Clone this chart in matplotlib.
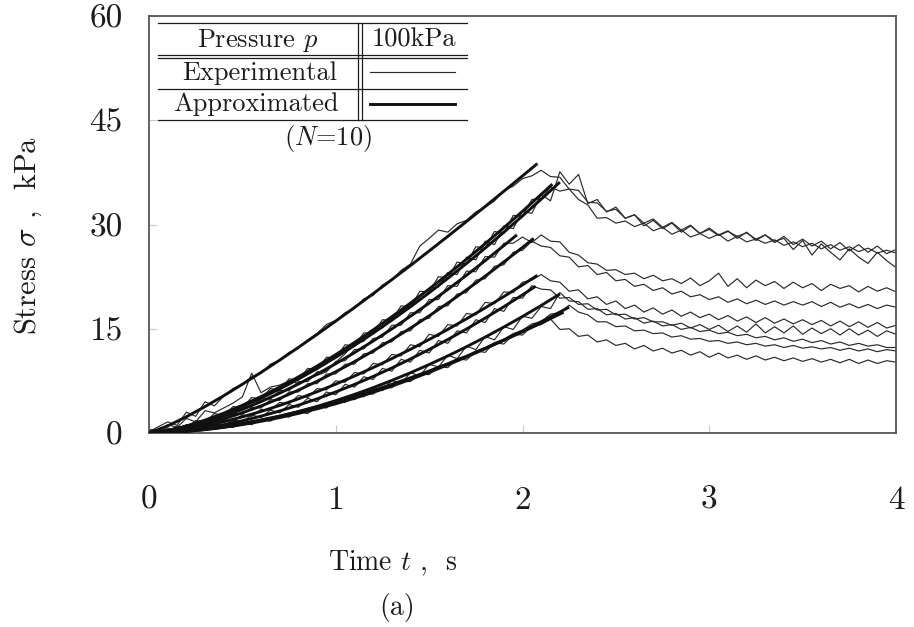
import numpy as np
import matplotlib
matplotlib.use("Agg")
import matplotlib.pyplot as plt

plt.rcParams["font.family"] = "serif"
plt.rcParams["font.serif"] = ["cmr10"]
plt.rcParams["mathtext.fontset"] = "cm"
plt.rcParams["axes.unicode_minus"] = False
plt.rcParams["axes.formatter.use_mathtext"] = True

# ---------------------------------------------------------------------------
# Data
# ---------------------------------------------------------------------------
x_ticks = [0, 1, 2, 3, 4]
y_ticks = [0, 15, 30, 45, 60]

# measured stress, sampled every 0.05 s from 0 to 4 s (kPa)
t_exp = np.round(np.arange(81) * 0.05, 2)

exp_1 = [0.2, 0.9, 1.6, 1.1, 3.0, 2.4, 4.5, 3.9, 5.3, 6.4,
         7.0, 8.1, 8.6, 9.9, 10.5, 11.6, 12.2, 13.4, 14.3, 15.6,
         16.2, 17.3, 17.9, 19.3, 19.8, 21.3, 22.0, 23.4, 24.3, 26.9,
         28.0, 29.2, 28.9, 30.1, 30.6, 31.8, 32.5, 33.4, 34.9, 35.5,
         36.6, 37.0, 37.8, 36.9, 36.8, 35.1, 34.9, 33.2, 33.1, 31.9,
         32.2, 30.9, 31.4, 30.2, 30.8, 29.6, 30.3, 29.2, 29.9, 28.7,
         29.5, 28.5, 29.1, 28.0, 28.9, 27.7, 28.5, 27.4, 28.3, 27.1,
         27.9, 26.9, 27.6, 26.5, 27.4, 26.2, 27.1, 26.0, 26.9, 25.8,
         26.4]
exp_2 = [0.5, 0.3, 1.2, 0.8, 2.1, 1.6, 3.2, 2.9, 3.6, 4.3,
         5.2, 8.6, 5.8, 6.6, 6.9, 7.5, 7.1, 7.9, 8.3, 8.8,
         10.2, 11.4, 12.9, 13.2, 14.8, 15.1, 16.6, 17.5, 18.4, 19.6,
         20.8, 21.0, 23.1, 22.8, 25.3, 24.9, 27.6, 27.1, 29.8, 29.4,
         31.9, 31.6, 34.3, 33.4, 37.6, 35.8, 37.2, 33.0, 33.6, 31.8,
         32.5, 30.9, 31.4, 29.8, 30.6, 29.4, 30.2, 28.9, 29.8, 28.7,
         29.3, 28.4, 29.0, 28.3, 28.8, 27.9, 28.5, 27.6, 28.0, 26.4,
         27.7, 25.6, 27.2, 26.0, 24.9, 26.5, 25.3, 24.4, 26.0, 24.8,
         23.8]
exp_3 = [0.2, 0.5, 0.2, 1.0, 0.7, 1.8, 1.6, 2.8, 2.5, 3.8,
         3.7, 5.1, 4.9, 6.4, 6.1, 7.8, 7.6, 9.3, 9.1, 10.9,
         10.8, 12.7, 12.5, 14.4, 14.3, 16.3, 16.2, 18.3, 18.1, 20.4,
         20.3, 22.5, 22.3, 24.6, 24.3, 26.8, 26.6, 29.0, 28.7, 31.3,
         31.2, 33.6, 33.7, 35.4, 34.8, 35.1, 33.6, 32.8, 30.9, 31.0,
         30.2, 30.5, 29.7, 30.2, 29.1, 29.6, 28.6, 29.2, 28.2, 28.7,
         28.0, 28.6, 27.6, 28.3, 27.5, 27.9, 27.3, 27.8, 27.0, 27.5,
         26.8, 27.3, 26.5, 27.1, 26.3, 26.8, 26.1, 26.6, 25.9, 26.3,
         25.9]
exp_4 = [0.4, 0.2, 0.7, 0.4, 1.2, 1.1, 1.9, 1.8, 2.8, 2.7,
         3.7, 3.8, 4.9, 4.9, 6.1, 6.1, 7.4, 7.4, 8.8, 8.9,
         10.3, 10.4, 12.0, 12.1, 13.6, 13.8, 15.5, 15.5, 17.3, 17.3,
         19.2, 19.2, 21.2, 21.1, 23.3, 23.2, 25.4, 25.3, 27.3, 27.3,
         28.2, 27.4, 28.5, 27.6, 27.5, 26.0, 25.6, 24.5, 24.3, 23.4,
         23.5, 22.8, 23.0, 22.2, 22.7, 21.9, 22.2, 21.5, 22.3, 21.2,
         21.9, 23.0, 21.1, 22.2, 20.9, 22.0, 21.2, 21.8, 20.8, 21.7,
         20.9, 21.5, 20.5, 21.4, 20.8, 21.2, 20.3, 21.1, 20.4, 20.9,
         20.3]
exp_5 = [0.1, 0.3, 0.2, 0.6, 0.5, 1.2, 1.1, 1.9, 1.8, 2.8,
         2.7, 3.7, 3.6, 4.8, 4.7, 5.9, 5.9, 7.1, 7.1, 8.5,
         8.5, 9.9, 9.9, 11.4, 11.5, 13.0, 13.1, 14.6, 14.7, 16.3,
         16.5, 18.2, 18.3, 20.0, 20.2, 22.0, 22.2, 24.0, 24.2, 26.0,
         26.3, 27.6, 26.9, 26.7, 25.5, 25.3, 23.9, 24.1, 22.8, 23.1,
         21.9, 22.1, 21.1, 21.4, 20.5, 20.9, 20.0, 20.4, 19.6, 19.9,
         19.2, 19.6, 18.8, 19.3, 18.6, 19.1, 18.5, 19.0, 18.4, 18.9,
         18.4, 18.9, 18.2, 18.8, 18.1, 18.6, 18.0, 18.5, 17.9, 18.4,
         18.1]
exp_6 = [0.3, 0.1, 0.4, 0.2, 0.8, 0.5, 1.2, 1.0, 1.9, 1.7,
         2.6, 2.4, 3.4, 3.3, 4.4, 4.2, 5.4, 5.1, 6.4, 6.2,
         7.5, 7.3, 8.7, 8.5, 10.0, 9.8, 11.3, 11.1, 12.7, 12.4,
         14.2, 13.9, 15.6, 15.4, 17.2, 17.0, 18.8, 18.6, 20.3, 20.2,
         21.7, 22.0, 22.8, 21.9, 21.7, 20.4, 20.6, 19.3, 19.6, 18.5,
         19.0, 17.9, 18.4, 17.4, 18.0, 17.1, 17.7, 16.8, 17.4, 16.6,
         17.1, 16.3, 16.9, 16.1, 16.7, 15.9, 16.6, 15.8, 16.4, 15.7,
         16.3, 15.6, 16.2, 15.4, 16.1, 15.3, 16.0, 15.2, 15.9, 15.1,
         15.5]
exp_7 = [0.2, 0.5, 0.1, 0.6, 0.2, 0.9, 0.6, 1.4, 1.0, 1.9,
         1.6, 2.6, 2.2, 3.3, 2.9, 4.1, 3.7, 5.0, 4.5, 5.9,
         5.5, 7.0, 6.6, 8.1, 7.7, 9.3, 8.9, 10.6, 10.2, 11.9,
         11.5, 13.3, 12.9, 14.7, 14.4, 16.3, 15.9, 17.9, 17.5, 19.5,
         19.4, 21.2, 20.7, 20.6, 19.4, 19.5, 18.5, 18.6, 17.7, 17.8,
         17.0, 17.1, 16.4, 16.6, 16.0, 16.0, 15.5, 15.8, 15.1, 15.6,
         14.9, 15.5, 14.6, 15.4, 14.5, 15.7, 14.4, 15.3, 14.4, 15.4,
         14.2, 15.1, 14.3, 15.0, 14.1, 15.0, 14.1, 14.8, 13.9, 14.7,
         14.2]
exp_8 = [0.4, 0.1, 0.3, 0.2, 0.4, 0.3, 0.6, 0.5, 1.0, 0.8,
         1.4, 1.2, 1.9, 1.7, 2.5, 2.3, 3.1, 2.8, 3.8, 3.6,
         4.7, 4.4, 5.6, 5.2, 6.6, 6.1, 7.6, 7.1, 8.7, 8.2,
         9.9, 9.5, 11.2, 10.7, 12.5, 12.0, 13.9, 13.4, 15.3, 14.9,
         16.8, 16.5, 18.2, 17.9, 20.2, 19.0, 18.9, 17.8, 17.9, 17.0,
         17.2, 16.4, 16.6, 15.8, 16.1, 15.4, 15.6, 14.9, 15.2, 14.6,
         14.8, 14.3, 14.5, 14.0, 14.2, 13.7, 13.9, 13.4, 13.7, 13.2,
         13.5, 13.0, 13.3, 12.8, 13.1, 12.6, 12.9, 12.5, 12.7, 12.3,
         12.3]
exp_9 = [0.1, 0.3, 0.0, 0.3, 0.2, 0.5, 0.4, 0.8, 0.8, 1.2,
         1.2, 1.7, 1.7, 2.2, 2.3, 2.8, 2.9, 3.4, 3.6, 4.1,
         4.3, 4.9, 5.1, 5.7, 6.0, 6.6, 6.9, 7.5, 7.9, 8.5,
         8.9, 9.6, 10.0, 10.7, 11.1, 11.8, 12.3, 13.0, 13.5, 14.3,
         14.8, 15.7, 16.0, 17.1, 17.3, 18.4, 17.4, 17.0, 16.0, 16.0,
         15.3, 15.4, 14.7, 14.8, 14.3, 14.4, 13.8, 14.0, 13.5, 13.6,
         13.2, 13.3, 12.9, 13.1, 12.7, 12.9, 12.5, 12.7, 12.3, 12.6,
         12.2, 12.4, 12.1, 12.3, 11.9, 12.2, 11.8, 12.1, 11.7, 12.0,
         11.8]
exp_10 = [0.0, 0.2, 0.1, 0.3, 0.2, 0.5, 0.4, 0.8, 0.8, 1.2,
          1.2, 1.7, 1.7, 2.2, 2.2, 2.8, 2.8, 3.4, 3.4, 4.1,
          4.1, 4.9, 4.8, 5.7, 5.6, 6.6, 6.5, 7.5, 7.4, 8.5,
          8.4, 9.6, 9.4, 10.7, 10.5, 11.8, 11.6, 13.0, 12.8, 14.2,
          14.1, 15.4, 15.6, 16.4, 14.9, 15.0, 13.9, 14.1, 13.1, 13.4,
          12.6, 12.9, 12.1, 12.6, 11.8, 12.2, 11.5, 11.9, 11.2, 11.7,
          10.9, 11.5, 10.8, 11.2, 10.6, 11.1, 10.5, 10.9, 10.4, 10.8,
          10.3, 10.7, 10.2, 10.6, 10.1, 10.6, 10.0, 10.5, 10.0, 10.4,
          10.2]

experimental = [exp_1, exp_2, exp_3, exp_4, exp_5,
                exp_6, exp_7, exp_8, exp_9, exp_10]

# fitted loading curves: values every 0.1 s, last value at the end time
t_fit_step = 0.1
fit_end = [2.08, 2.20, 2.16, 1.97, 2.06, 2.08, 2.07, 2.20, 2.25, 2.22]
fit_1 = [0, 1.02, 2.33, 3.80, 5.36, 7.01, 8.72, 10.49, 12.32, 14.19, 16.10,
         18.05, 20.04, 22.06, 24.10, 26.19, 28.30, 30.43, 32.59, 34.78, 36.99,
         38.77]
fit_2 = [0, 0.33, 0.94, 1.75, 2.71, 3.80, 5.01, 6.33, 7.76, 9.28, 10.89,
         12.59, 14.36, 16.23, 18.16, 20.17, 22.25, 24.39, 26.60, 28.89, 31.23,
         33.64, 36.09]
fit_3 = [0, 0.36, 1.01, 1.85, 2.85, 3.99, 5.24, 6.61, 8.07, 9.63, 11.28,
         13.01, 14.83, 16.72, 18.69, 20.72, 22.83, 25.00, 27.24, 29.54, 31.90,
         34.33, 35.81]
fit_4 = [0, 0.28, 0.82, 1.54, 2.41, 3.40, 4.52, 5.73, 7.05, 8.47, 9.97,
         11.56, 13.23, 14.97, 16.80, 18.69, 20.66, 22.69, 24.80, 26.96,
         28.51]
fit_5 = [0, 0.22, 0.67, 1.28, 2.03, 2.91, 3.89, 4.98, 6.17, 7.44, 8.81,
         10.26, 11.80, 13.41, 15.09, 16.85, 18.69, 20.59, 22.56, 24.61, 26.70,
         28.00]
fit_6 = [0, 0.18, 0.54, 1.02, 1.62, 2.32, 3.10, 3.97, 4.92, 5.94, 7.03,
         8.19, 9.41, 10.70, 12.04, 13.45, 14.91, 16.43, 18.00, 19.63, 21.31,
         22.69]
fit_7 = [0, 0.11, 0.35, 0.72, 1.19, 1.76, 2.42, 3.17, 4.00, 4.91, 5.91,
         6.98, 8.13, 9.35, 10.65, 12.02, 13.45, 14.96, 16.53, 18.17, 19.88,
         21.11]
fit_8 = [0, 0.07, 0.24, 0.50, 0.85, 1.29, 1.81, 2.40, 3.08, 3.83, 4.65,
         5.55, 6.52, 7.56, 8.67, 9.85, 11.09, 12.41, 13.79, 15.25, 16.76,
         18.35, 20.00]
fit_9 = [0, 0.07, 0.23, 0.48, 0.81, 1.21, 1.68, 2.22, 2.82, 3.48, 4.21,
         5.00, 5.85, 6.75, 7.71, 8.73, 9.81, 10.94, 12.13, 13.37, 14.66,
         16.01, 17.40, 18.12]
fit_10 = [0, 0.09, 0.29, 0.58, 0.94, 1.38, 1.88, 2.44, 3.07, 3.75, 4.48,
          5.27, 6.11, 7.00, 7.94, 8.92, 9.96, 11.04, 12.17, 13.34, 14.56,
          15.81, 17.11, 17.38]

approximated = [fit_1, fit_2, fit_3, fit_4, fit_5,
                fit_6, fit_7, fit_8, fit_9, fit_10]

# ---------------------------------------------------------------------------
# Figure
# ---------------------------------------------------------------------------
W, H = 914, 627
fig = plt.figure(figsize=(W / 100, H / 100), dpi=100)
ax_l, ax_r, ax_t, ax_b = 149, 896, 16, 433
ax = fig.add_axes([ax_l / W, 1 - ax_b / H, (ax_r - ax_l) / W, (ax_b - ax_t) / H])

ink = "#1c1c1c"

for vals in experimental:
    ax.plot(t_exp, vals, color="#2a2a2a", lw=0.85, zorder=2)

for vals, t_end in zip(approximated, fit_end):
    n_grid = len(vals) - 1
    t_vals = list(np.round(np.arange(n_grid) * t_fit_step, 2)) + [t_end]
    ax.plot(t_vals, vals, color="#111111", lw=2.1, zorder=3,
            solid_capstyle="butt")

ax.set_xlim(0, 4)
ax.set_ylim(0, 60)
ax.set_xticks(x_ticks)
ax.set_yticks(y_ticks)
ax.set_xticklabels([str(v) for v in x_ticks])
ax.set_yticklabels([str(v) for v in y_ticks])
ax.tick_params(axis="x", direction="in", length=6, width=0.8,
               color="#c8c8c8", pad=38, labelsize=24, labelcolor=ink)
ax.tick_params(axis="y", direction="in", length=6, width=0.8,
               color="#c8c8c8", pad=19, labelsize=24, labelcolor=ink)
for sp in ax.spines.values():
    sp.set_color("#555555")
    sp.set_linewidth(1.3)

ax.set_xlabel(r"Time $t$ ,  s", fontsize=20, color=ink)
ax.xaxis.set_label_coords((393 - ax_l) / (ax_r - ax_l),
                          (ax_b - 563) / (ax_b - ax_t))
ax.xaxis.label.set_verticalalignment("center")
ax.set_ylabel(r"Stress $\sigma$ ,  kPa", fontsize=22, color=ink)
ax.yaxis.set_label_coords((28 - ax_l) / (ax_r - ax_l),
                          (ax_b - 235) / (ax_b - ax_t))
ax.yaxis.label.set_verticalalignment("center")

fig.text(397 / W, 1 - 607 / H, "(a)", fontsize=20, color=ink,
         ha="center", va="center")


# legend table drawn in axes fraction coordinates
def fx(px):
    return (px - ax_l) / (ax_r - ax_l)


def fy(py):
    return (ax_b - py) / (ax_b - ax_t)


tab_x0, tab_x1 = 158, 467
rule_kw = dict(color=ink, lw=0.9, transform=ax.transAxes, clip_on=False,
               zorder=5)
for py in (23, 55, 58, 89, 120):
    ax.plot([fx(tab_x0), fx(tab_x1)], [fy(py), fy(py)], **rule_kw)
for px in (358, 362):
    ax.plot([fx(px), fx(px)], [fy(23), fy(120)], **rule_kw)

txt_kw = dict(transform=ax.transAxes, ha="center", va="center",
              fontsize=19, color=ink, zorder=6)
ax.text(fx(258), fy(40), r"Pressure $p$", **txt_kw)
ax.text(fx(414), fy(40), "100kPa", **txt_kw)
ax.text(fx(260), fy(73), "Experimental", **txt_kw)
ax.text(fx(256), fy(104), "Approximated", **txt_kw)
ax.text(fx(328), fy(138), r"($N$=10)", **txt_kw)

ax.plot([fx(370), fx(455)], [fy(72), fy(72)], color="#2a2a2a", lw=0.85,
        transform=ax.transAxes, clip_on=False, zorder=5)
ax.plot([fx(370), fx(455)], [fy(104), fy(104)], color="#111111", lw=2.1,
        transform=ax.transAxes, clip_on=False, zorder=5)

fig.savefig("out.png", dpi=100)
